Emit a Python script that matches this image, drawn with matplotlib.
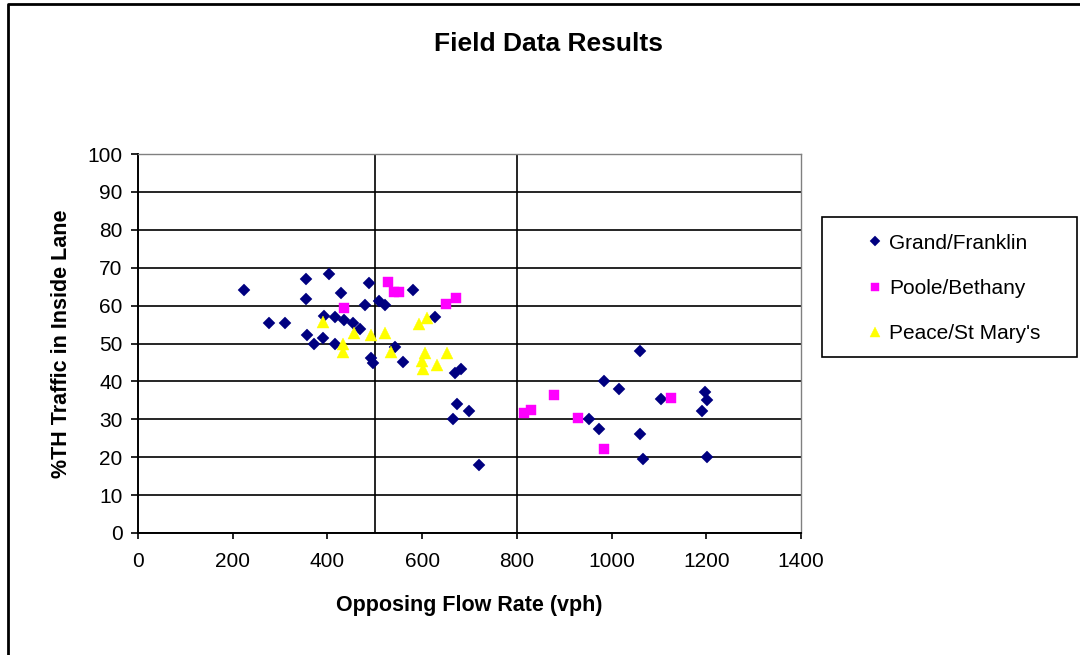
import matplotlib.pyplot as plt
from matplotlib.patches import Rectangle
from matplotlib.lines import Line2D

plt.rcParams['font.family'] = ['Liberation Sans', 'DejaVu Sans']

# Grand/Franklin
gf_flow = [224, 354, 403, 488, 429, 354, 480, 508, 276, 311, 392, 417, 434, 454,
           468, 357, 371, 391, 417, 492, 496, 580, 522, 628, 543, 560, 670, 682,
           674, 699, 665, 721, 1059, 984, 1016, 1104, 1197, 1202, 1190, 952, 973,
           1059, 1067, 1202]
gf_pct = [64.0, 67.1, 68.3, 66.0, 63.4, 61.8, 60.2, 61.3, 55.4, 55.4, 57.3, 57.0,
          56.1, 55.3, 53.9, 52.2, 50.0, 51.5, 50.0, 46.1, 44.8, 64.0, 60.2, 57.1,
          49.2, 45.0, 42.1, 43.2, 34.0, 32.3, 30.1, 18.0, 48.1, 40.2, 37.9, 35.4,
          37.1, 35.2, 32.2, 30.1, 27.4, 26.1, 19.4, 20.1]

# Poole/Bethany
pb_flow = [435, 528, 540, 552, 651, 672, 816, 830, 879, 930, 985, 1125]
pb_pct = [59.4, 66.3, 63.7, 63.7, 60.5, 62.1, 31.7, 32.5, 36.5, 30.4, 22.2, 35.7]

# Peace/St Mary's
ps_flow = [391, 456, 491, 433, 433, 594, 610, 521, 534, 605, 653, 600, 602, 632]
ps_pct = [55.7, 52.7, 52.2, 50.0, 47.8, 55.1, 56.8, 52.7, 47.8, 47.4, 47.4, 45.5,
          43.2, 44.2]

divider_flows = [500, 800]
x_ticks = list(range(0, 1401, 200))
y_ticks = list(range(0, 101, 10))

W, H = 1080, 655
fig = plt.figure(figsize=(W / 100, H / 100), dpi=100)
ax = fig.add_axes([138 / W, 1 - 533 / H, (801 - 138) / W, (533 - 154) / H])

ax.set_xlim(0, 1400)
ax.set_ylim(0, 100)
ax.set_xticks(x_ticks)
ax.set_yticks(y_ticks)
ax.tick_params(axis='both', labelsize=15, colors='black', width=1.2)
ax.tick_params(axis='y', length=5, pad=6)
ax.tick_params(axis='x', length=4, pad=10)

ax.yaxis.grid(True, color='black', linewidth=1.2)
ax.set_axisbelow(True)
for xv in divider_flows:
    ax.axvline(xv, color='black', linewidth=1.2, zorder=1)

for side in ['left', 'bottom']:
    ax.spines[side].set_color('black')
    ax.spines[side].set_linewidth(1.4)
for side in ['top', 'right']:
    ax.spines[side].set_color('#808080')
    ax.spines[side].set_linewidth(1.0)

ax.plot(gf_flow, gf_pct, linestyle='none', marker='D', markersize=5.8,
        color='#000080', markeredgewidth=0.3, label='Grand/Franklin', zorder=3)
ax.plot(pb_flow, pb_pct, linestyle='none', marker='s', markersize=7.0,
        color='#FF00FF', markeredgewidth=0.3, label='Poole/Bethany', zorder=3)
ax.plot(ps_flow, ps_pct, linestyle='none', marker='^', markersize=8.2,
        color='#FFFF00', markeredgewidth=0.3, label="Peace/St Mary's", zorder=3)

ax.set_xlabel('Opposing Flow Rate (vph)', fontsize=15.5, fontweight='bold')
ax.xaxis.label.set_va('center')
ax.xaxis.set_label_coords(0.5, (533 - 605) / 379)
ax.set_ylabel('%TH Traffic in Inside Lane', fontsize=15.5, fontweight='bold')
ax.yaxis.label.set_va('center')
ax.yaxis.set_label_coords((62 - 138) / 663, 0.5)

fig.text(548 / W, 1 - 44 / H, 'Field Data Results', ha='center', va='center',
         fontsize=19, fontweight='bold')

# legend box and entries
fig.add_artist(Rectangle((822 / W, 1 - 357 / H), (1077 - 822) / W, 140 / H,
                         transform=fig.transFigure, fill=False,
                         edgecolor='black', linewidth=1.2))
ax.legend(loc='center left', bbox_to_anchor=(864.5 / W, 1 - 288.5 / H),
          bbox_transform=fig.transFigure, frameon=False, fontsize=15,
          handlelength=1.0, handletextpad=0.17, borderpad=0, borderaxespad=0,
          labelspacing=1.27, markerscale=0.85)

# outer border of the chart area
fig.add_artist(Line2D([8 / W, 8 / W, 1.01], [-0.01, 1 - 4 / H, 1 - 4 / H],
                      transform=fig.transFigure, color='black', linewidth=2.0))

fig.savefig('out.png', dpi=100)
